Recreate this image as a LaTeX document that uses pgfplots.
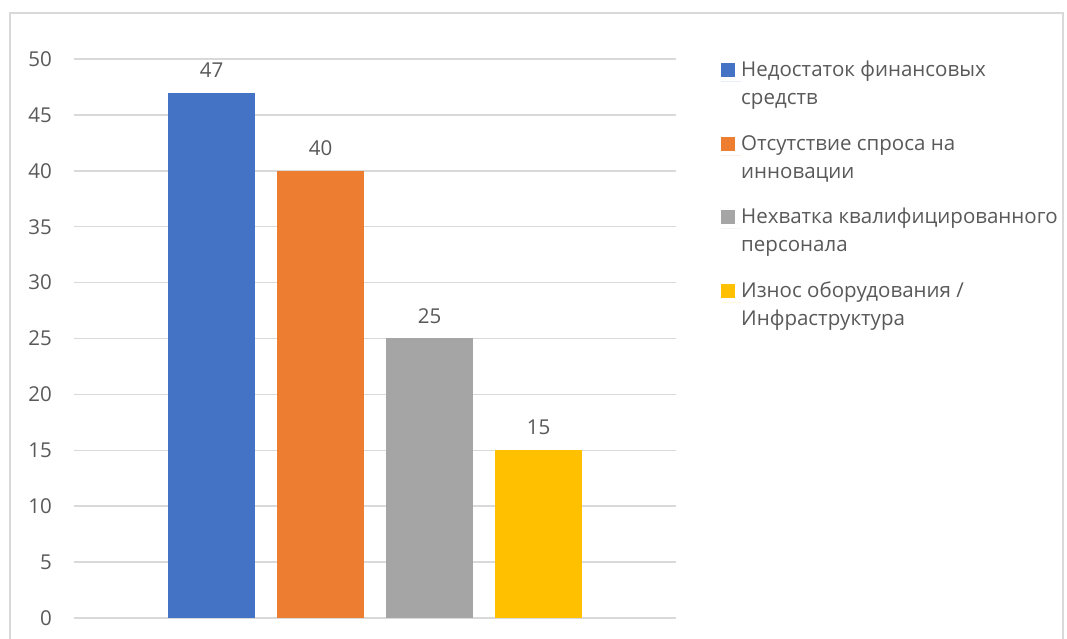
\documentclass[border=0pt]{standalone}
\usepackage{fontspec}
\setmainfont{Open Sans}
\usepackage{pgfplots}
\pgfplotsset{compat=1.18}
\definecolor{cblue}{HTML}{4472C4}
\definecolor{corange}{HTML}{ED7D31}
\definecolor{cgray}{HTML}{A5A5A5}
\definecolor{cyellow}{HTML}{FFC000}
\definecolor{ctext}{HTML}{595959}
\definecolor{cgrid}{HTML}{D9D9D9}
\newcommand{\cf}{\fontsize{20.5}{28}\selectfont}
\begin{document}
\begin{tikzpicture}
\useasboundingbox (0pt,0pt) rectangle (1067pt,639pt);
\draw[cgrid, line width=1.5pt] (10pt,-10pt) -- (10pt,626pt) -- (1063pt,626pt) -- (1063pt,-10pt);
\begin{axis}[
  at={(74pt,21pt)}, anchor=south west,
  scale only axis, width=602pt, height=559pt,
  xmin=0, xmax=2, ymin=0, ymax=50,
  ytick={0,5,...,50}, xtick=\empty,
  axis line style={draw=none},
  major tick length=0pt,
  ymajorgrids, grid style={cgrid, line width=1.5pt},
  /pgf/number format/assume math mode=true,
  yticklabel style={font=\cf, color=ctext, anchor=east, inner sep=0pt, xshift=-22pt},
  ybar=22pt, bar width=87pt,
  nodes near coords,
  every node near coord/.append style={font=\cf, color=ctext, anchor=south, inner sep=0pt, yshift=15pt},
  legend style={at={(1.0698,1.0076)}, anchor=north west, draw=none, fill=none,
    font=\cf, text=ctext, row sep=24.5pt,
    nodes={align=left, inner sep=0pt}},
  legend cell align=left,
  legend image code/.code={\path (0pt,0pt) -- (20pt,0pt); \fill[#1] (0pt,4.5pt) rectangle (14pt,18.5pt);},
]
\addplot[fill=cblue, draw=none] coordinates {(1,47)};
\addlegendentry{Недостаток финансовых\strut\\средств\strut}
\addplot[fill=corange, draw=none] coordinates {(1,40)};
\addlegendentry{Отсутствие спроса на\strut\\инновации\strut}
\addplot[fill=cgray, draw=none] coordinates {(1,25)};
\addlegendentry{Нехватка квалифицированного\strut\\персонала\strut}
\addplot[fill=cyellow, draw=none] coordinates {(1,15)};
\addlegendentry{Износ оборудования /\strut\\Инфраструктура\strut}
\end{axis}
\end{tikzpicture}
\end{document}
